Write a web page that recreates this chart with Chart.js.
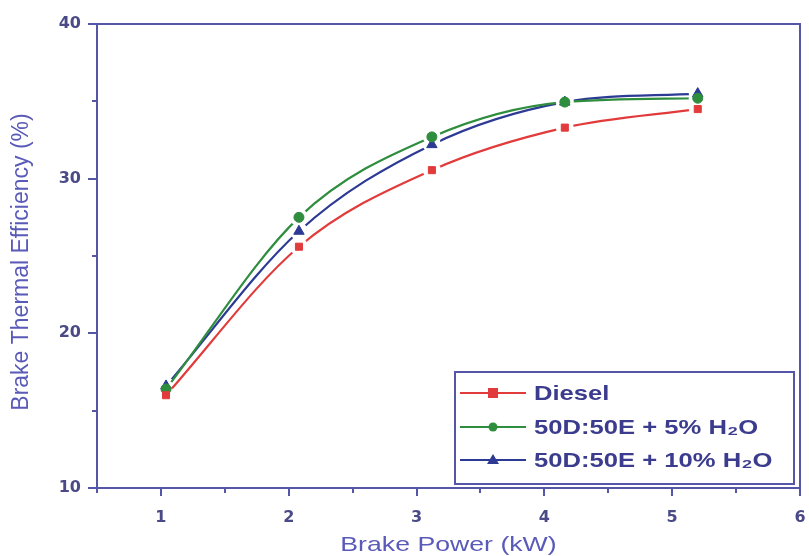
<!DOCTYPE html>
<html><head><meta charset="utf-8">
<script src="https://cdn.jsdelivr.net/npm/chart.js@4/dist/chart.umd.min.js"></script>
<style>html,body{margin:0;padding:0;background:#fff}#wrap{width:809px;height:556px}</style>
</head><body><div id="wrap"><canvas id="c" width="809" height="556"></canvas></div>
<script>
const brakePower = [1.04, 2.08, 3.12, 4.16, 5.2];
const diesel  = [16.0, 25.6, 30.55, 33.3, 34.5];
const blend5  = [16.4, 27.5, 32.7, 34.95, 35.2];
const blend10 = [16.6, 26.6, 32.2, 34.95, 35.5];
const seriesNames = ['Diesel', '50D:50E + 5% H\u2082O', '50D:50E + 10% H\u2082O'];
const xTickLabels = [1, 2, 3, 4, 5, 6];
const yTickLabels = [10, 20, 30, 40];
const xTitle = 'Brake Power (kW)';
const yTitle = 'Brake Thermal Efficiency (%)';

const AXIS = '#5656a8';
const LABEL = '#4a4a86';
const TITLE = '#5a5ab8';
const FONT = '"Liberation Sans", Arial, sans-serif';
const colors = ['#e23b3b', '#2f8d3e', '#2c3a94'];
const styles = ['rect', 'circle', 'triangle'];
const radii = [5, 5, 6];
const seriesData = [diesel, blend5, blend10];

function pts(arr) { return arr.map((v, i) => ({x: brakePower[i], y: v})); }

// first dataset = top-most: markers first, then lines (each line carries white halo points)
const datasets = [];
seriesData.forEach((arr, i) => {
  datasets.push({label: 'mk' + i, data: pts(arr), showLine: false, pointStyle: styles[i],
    pointRadius: radii[i], pointHoverRadius: radii[i], pointBackgroundColor: colors[i],
    pointBorderColor: colors[i], pointBorderWidth: 1});
});
seriesData.forEach((arr, i) => {
  datasets.push({label: seriesNames[i], data: pts(arr), borderColor: colors[i], borderWidth: 2.2,
    pointStyle: 'circle', pointRadius: 9, pointHoverRadius: 9, pointBackgroundColor: '#ffffff',
    pointBorderColor: '#ffffff', pointBorderWidth: 0,
    cubicInterpolationMode: 'monotone', fill: false});
});

function stretchText(ctx, text, x, y, sx, align) {
  ctx.save();
  ctx.translate(x, y);
  ctx.scale(sx, 1);
  ctx.textAlign = align; ctx.textBaseline = 'middle';
  ctx.fillText(text, 0, 0);
  ctx.restore();
}

const decor = {
  id: 'decor',
  beforeDatasetsDraw(chart) {
    const {ctx, chartArea: a, scales: {x, y}} = chart;
    ctx.save();
    ctx.strokeStyle = AXIS; ctx.lineWidth = 2;
    ctx.strokeRect(a.left, a.top, a.right - a.left, a.bottom - a.top);
    for (let v = 0.5; v <= 6.001; v += 0.5) {
      const px = Math.round(x.getPixelForValue(v));
      const len = xTickLabels.includes(v) ? 8 : 5;
      ctx.beginPath(); ctx.moveTo(px, a.bottom); ctx.lineTo(px, a.bottom + len); ctx.stroke();
    }
    for (let v = 10; v <= 40; v += 5) {
      const py = Math.round(y.getPixelForValue(v));
      const len = yTickLabels.includes(v) ? 9 : 5;
      ctx.beginPath(); ctx.moveTo(a.left, py); ctx.lineTo(a.left - len, py); ctx.stroke();
    }
    ctx.fillStyle = TITLE;
    ctx.font = '21px ' + FONT;
    stretchText(ctx, xTitle, (a.left + a.right) / 2, 545, 1.27, 'center');
    ctx.save();
    ctx.translate(22, (a.top + a.bottom) / 2 + 6);
    ctx.rotate(-Math.PI / 2);
    ctx.font = '23px ' + FONT;
    ctx.textAlign = 'center'; ctx.textBaseline = 'middle';
    ctx.fillText(yTitle, 0, 0);
    ctx.restore();
    ctx.restore();
  },
  afterDraw(chart) {
    const {ctx} = chart;
    ctx.save();
    const bx = 455, by = 372, bw = 339, bh = 112;
    ctx.fillStyle = '#fff'; ctx.fillRect(bx, by, bw, bh);
    ctx.strokeStyle = AXIS; ctx.lineWidth = 2; ctx.strokeRect(bx, by, bw, bh);
    const rows = [393, 427, 460];
    rows.forEach((ry, i) => {
      ctx.strokeStyle = colors[i]; ctx.lineWidth = 2;
      ctx.beginPath(); ctx.moveTo(460, ry); ctx.lineTo(526, ry); ctx.stroke();
      ctx.fillStyle = colors[i];
      const cx = 493;
      if (styles[i] === 'rect') ctx.fillRect(cx - 5, ry - 5, 10, 10);
      else if (styles[i] === 'circle') { ctx.beginPath(); ctx.arc(cx, ry, 4.5, 0, Math.PI * 2); ctx.fill(); }
      else { ctx.beginPath(); ctx.moveTo(cx, ry - 6); ctx.lineTo(cx + 6, ry + 4); ctx.lineTo(cx - 6, ry + 4); ctx.closePath(); ctx.fill(); }
      ctx.fillStyle = '#3c3c8e';
      ctx.font = 'bold 21px ' + FONT;
      stretchText(ctx, seriesNames[i], 534, ry + 1, 1.22, 'left');
    });
    ctx.restore();
  }
};

new Chart(document.getElementById('c'), {
  type: 'line',
  data: {datasets},
  options: {
    responsive: false, animation: false, devicePixelRatio: 1,
    layout: {padding: {left: 0, right: 9, top: 24, bottom: 0}},
    plugins: {legend: {display: false}, tooltip: {enabled: false}},
    scales: {
      x: {type: 'linear', min: 0.5, max: 6,
        afterFit(s) { s.height = 68; s.paddingLeft = 0; s.paddingRight = 0; },
        grid: {display: false, drawTicks: false},
        border: {display: true, color: AXIS, width: 2},
        ticks: {stepSize: 0.5, autoSkip: false, maxRotation: 0, padding: 20, color: LABEL,
          font: {family: '"DejaVu Sans", sans-serif', size: 16, weight: 'bold'},
          callback: v => xTickLabels.includes(v) ? String(v) : ''},
        title: {display: false}
      },
      y: {min: 10, max: 40,
        afterFit(s) { s.width = 97; s.paddingTop = 0; s.paddingBottom = 0; },
        grid: {display: false, drawTicks: false},
        border: {display: true, color: AXIS, width: 2},
        ticks: {stepSize: 5, autoSkip: false, padding: 16, color: LABEL,
          font: {family: '"DejaVu Sans", sans-serif', size: 16, weight: 'bold'},
          callback: v => yTickLabels.includes(v) ? String(v) : ''},
        title: {display: false}
      }
    }
  },
  plugins: [decor]
});
</script></body></html>
